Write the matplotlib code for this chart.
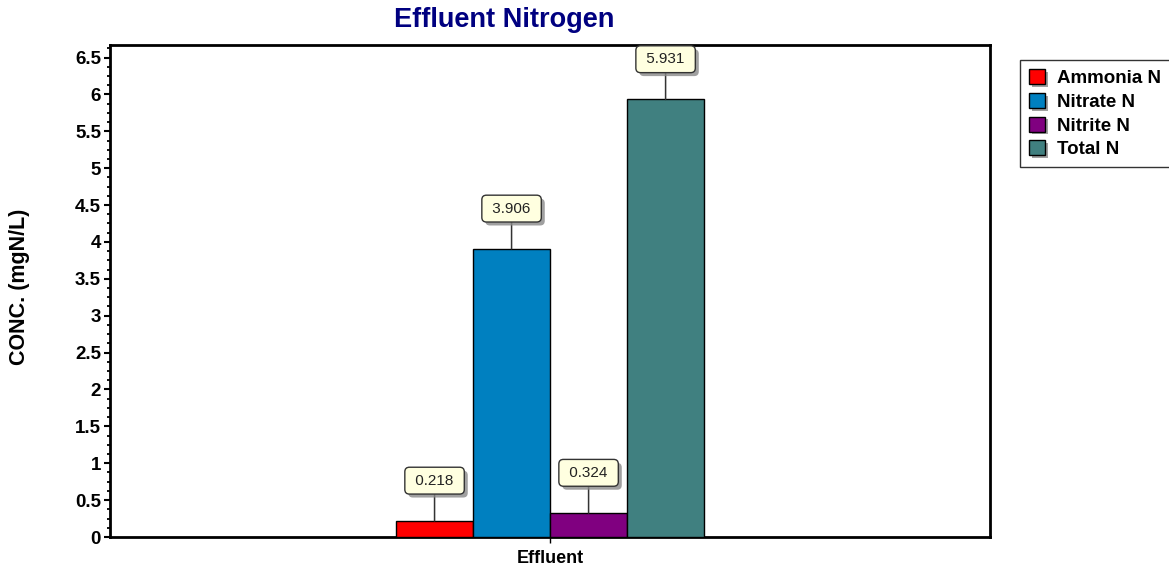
import matplotlib
matplotlib.use("Agg")
import matplotlib.pyplot as plt
import matplotlib.patheffects as pe
from matplotlib.ticker import MultipleLocator, FuncFormatter

# data
category = "Effluent"
series = ["Ammonia N", "Nitrate N", "Nitrite N", "Total N"]
values = [0.218, 3.906, 0.324, 5.931]
colors = ["#ff0000", "#0080c0", "#800080", "#408080"]

plt.rcParams["font.family"] = ["Liberation Sans", "DejaVu Sans"]

fig = plt.figure(figsize=(11.69, 5.76), dpi=100)
ax = fig.add_axes([0.0941, 0.0677, 0.7529, 0.8542])

bar_w = 0.0875
offsets = [(i - 1.5) * bar_w for i in range(len(series))]
shadow = [pe.SimplePatchShadow(offset=(2.5, -2.5), shadow_rgbFace="#888888", alpha=0.8), pe.Normal()]
for name, v, c, off in zip(series, values, colors, offsets):
    ax.bar(off, v, width=bar_w, color=c, edgecolor="black", linewidth=1, label=name, zorder=3)
    ann = ax.annotate(f" {v:.3f} ", xy=(off, v), xytext=(0, 29), textcoords="offset points",
                      ha="center", va="center", fontsize=11, color="#222222",
                      bbox=dict(boxstyle="round,pad=0.42,rounding_size=0.3", fc="#ffffe0", ec="#333333", lw=1),
                      arrowprops=dict(arrowstyle="-", color="#333333", lw=1.1, shrinkA=0, shrinkB=0),
                      zorder=5)
    ann.get_bbox_patch().set_path_effects(shadow)

ax.set_xlim(-0.5, 0.5)
ax.set_ylim(0, 6.67)
ax.set_xticks([0])
ax.set_xticklabels([category], fontsize=13, fontweight="bold")
ax.yaxis.set_major_locator(MultipleLocator(0.5))
ax.yaxis.set_minor_locator(MultipleLocator(0.125))
ax.yaxis.set_major_formatter(FuncFormatter(lambda v, p: f"{v:g}"))
for lab in ax.get_yticklabels():
    lab.set_fontweight("bold")
ax.tick_params(axis="y", which="major", length=4.5, width=1.5, labelsize=13.5, pad=2)
ax.tick_params(axis="y", which="minor", length=2.5, width=1.3)
ax.tick_params(axis="x", length=4.5, width=1, pad=5)
for s in ax.spines.values():
    s.set_linewidth(2)

fig.text(20 / 1169, 0.5017, "CONC. (mgN/L)", rotation=90, ha="center", va="center",
         fontsize=15.5, fontweight="bold")
fig.text(0.431, 1 - 20 / 576, "Effluent Nitrogen", ha="center", va="center",
         fontsize=19.5, fontweight="bold", color="#000080")

leg = ax.legend(loc="upper left", bbox_to_anchor=(1.034, 0.9695), borderaxespad=0, frameon=True,
                fancybox=False, edgecolor="black", prop={"weight": "bold", "size": 13.5},
                handlelength=0.85, handleheight=0.85, handletextpad=0.6, labelspacing=0.3,
                borderpad=0.5)
leg.get_frame().set_linewidth(1)
for h in leg.legend_handles:
    h.set_path_effects([pe.SimplePatchShadow(offset=(2, -2), shadow_rgbFace="#888888", alpha=0.8), pe.Normal()])

fig.savefig("out.png", dpi=100)
